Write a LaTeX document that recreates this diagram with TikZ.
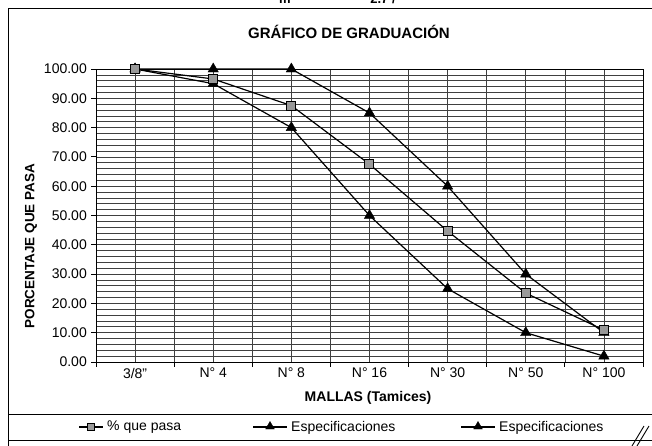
\documentclass[tikz,border=0pt]{standalone}
\usepackage{fontspec}
\setmainfont{Liberation Sans}
\usetikzlibrary{shapes.geometric}
\begin{document}
\begin{tikzpicture}[x=1pt,y=-1pt,
  gridline/.style={black!75, line width=0.7pt},
  series/.style={black, line width=1.2pt},
  sqmark/.style={rectangle, draw=black, fill=black!40, line width=1pt, minimum size=9pt, inner sep=0pt},
  trimark/.style={regular polygon, regular polygon sides=3, fill=black, draw=black, minimum size=12pt, inner sep=0pt},
  ticklab/.style={font=\fontsize{14}{16}\selectfont, inner sep=0pt},
  axtitle/.style={font=\bfseries\fontsize{14}{16}\selectfont, inner sep=0pt},
  legtext/.style={font=\fontsize{14}{16}\selectfont, anchor=west, inner sep=0pt}]
\useasboundingbox (0,0) rectangle (652,445);
% clipped fragments at the top edge
\node[font=\bfseries\fontsize{13}{15}\selectfont, anchor=base, inner sep=0pt] (frag1) at (285,3.5) {m};
\node[font=\bfseries\fontsize{13}{15}\selectfont, anchor=base, inner sep=0pt] (frag2) at (383,3.5) {2.7 /};
% outer frame
\draw[black, line width=0.9pt] (8,446) -- (8,8) -- (653,8);
% title
\node[font=\bfseries\fontsize{15}{18}\selectfont, inner sep=0pt] (title) at (349,32) {GRÁFICO DE GRADUACIÓN};
% grid
\foreach \v in {0,2,...,100} \draw[gridline] (96,{362-2.93*\v}) -- (643,{362-2.93*\v});
\foreach \i in {0,...,14} \draw[gridline] ({96+39.07*\i},69) -- ({96+39.07*\i},362);
\draw[black, line width=0.9pt] (96,69) rectangle (643,362);
% y ticks and labels
\foreach \v/\t in {0/0.00,10/10.00,20/20.00,30/30.00,40/40.00,50/50.00,60/60.00,70/70.00,80/80.00,90/90.00,100/100.00} {
  \draw[black, line width=0.9pt] (91,{362-2.93*\v}) -- (96,{362-2.93*\v});
  \node[ticklab, anchor=east] (yl\v) at (87,{362-2.93*\v}) {\t};
}
% x ticks and labels
\foreach \i in {0,...,7} \draw[black, line width=0.9pt] ({96+78.14*\i},362) -- ({96+78.14*\i},367);
\foreach \i/\t in {0/{3/8"},1/{N° 4},2/{N° 8},3/{N° 16},4/{N° 30},5/{N° 50},6/{N° 100}}
  \node[ticklab] (xl\i) at ({96+78.14*(\i+0.5)},373) {\t};
% axis titles
\node[axtitle] (xtitle) at (368,398) {MALLAS (Tamices)};
\node[axtitle, font=\bfseries\fontsize{13.5}{16}\selectfont, rotate=90] (ytitle) at (31,246) {PORCENTAJE QUE PASA};
% data coordinates
\foreach \i/\a/\b/\c in {0/100/100/100, 1/96.6/100/95, 2/87.5/100/80, 3/67.5/85/50, 4/44.7/60/25, 5/23.5/30/10, 6/10.9/10/2} {
  \coordinate (p\i) at ({96+78.14*(\i+0.5)},{362-2.93*\a});
  \coordinate (u\i) at ({96+78.14*(\i+0.5)},{362-2.93*\b});
  \coordinate (l\i) at ({96+78.14*(\i+0.5)},{362-2.93*\c});
}
\draw[series] (u0) -- (u1) -- (u2) -- (u3) -- (u4) -- (u5) -- (u6);
\draw[series] (l0) -- (l1) -- (l2) -- (l3) -- (l4) -- (l5) -- (l6);
\draw[series] (p0) -- (p1) -- (p2) -- (p3) -- (p4) -- (p5) -- (p6);
\foreach \i in {0,...,6} {
  \node[trimark] (mu\i) at (u\i) {};
  \node[trimark] (ml\i) at (l\i) {};
}
\foreach \i in {0,...,6} \node[sqmark] (mp\i) at (p\i) {};
% legend
\draw[black, line width=0.9pt] (655,414) -- (8,414) -- (8,440) -- (655,440);
\coordinate (la1) at (79,427); \coordinate (lb1) at (103,427);
\draw[series] (la1) -- (lb1);
\node[sqmark, minimum size=7.5pt] (lm1) at (91,427) {};
\node[legtext] (lt1) at (107,427.5) {\% que pasa};
\coordinate (la2) at (253,427); \coordinate (lb2) at (287,427);
\draw[series] (la2) -- (lb2);
\node[trimark, minimum size=10pt] (lm2) at (270,426.5) {};
\node[legtext] (lt2) at (291,427.5) {Especificaciones};
\coordinate (la3) at (461,427); \coordinate (lb3) at (495,427);
\draw[series] (la3) -- (lb3);
\node[trimark, minimum size=10pt] (lm3) at (478,426.5) {};
\node[legtext] (lt3) at (499,427.5) {Especificaciones};
% corner slashes
\coordinate (s1a) at (632,446); \coordinate (s1b) at (644,426);
\coordinate (s2a) at (637,446); \coordinate (s2b) at (649,426);
\draw[black, line width=0.9pt] (s1a) -- (s1b);
\draw[black, line width=0.9pt] (s2a) -- (s2b);
\end{tikzpicture}
\end{document}
